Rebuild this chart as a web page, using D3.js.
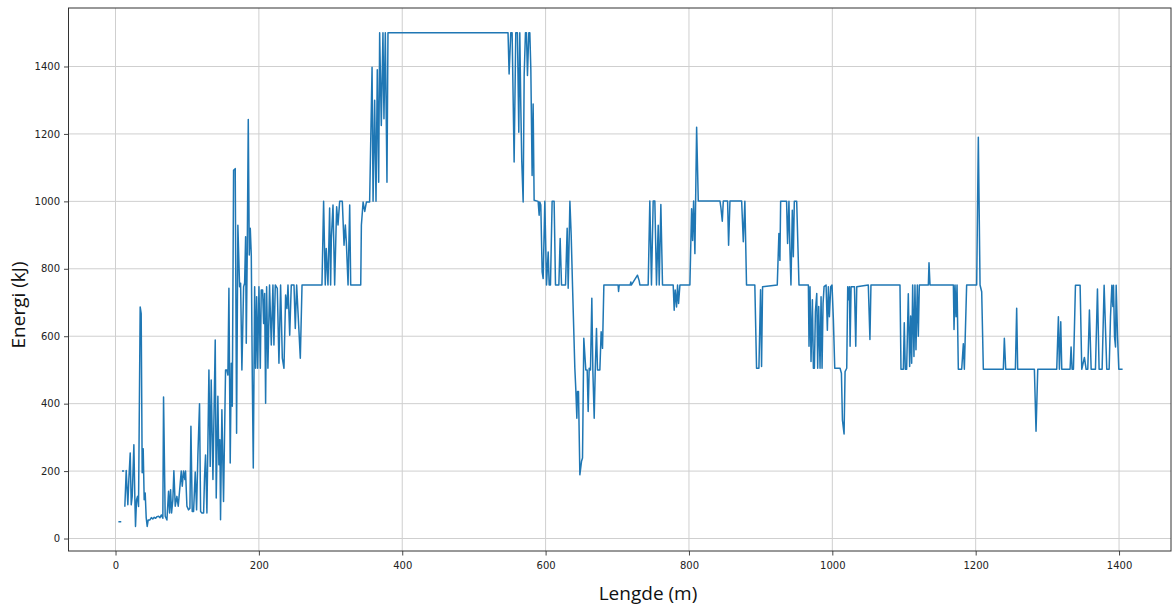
<!DOCTYPE html>
<html>
<head>
<meta charset="utf-8">
<script src="https://cdn.jsdelivr.net/npm/d3@7"></script>
<style>
  html, body { margin: 0; padding: 0; background: #fff; }
  svg { display: block; }
</style>
</head>
<body>
<svg id="chart" width="1172" height="607"></svg>
<script>
// ---- data ----
const xTicks = [0, 200, 400, 600, 800, 1000, 1200, 1400];
const yTicks = [0, 200, 400, 600, 800, 1000, 1200, 1400];
const xLabel = "Lengde (m)";
const yLabel = "Energi (kJ)";

const lengde = [4,8,8.5,9,12,12.5,
13,14.9,17.2,18.6,20.5,21.9,23.3,25.6,27,27.9,29.3,30.7,32.1,34.4,35.8,37.2,38.6,40,41.4,42.8,44.2,45.6,48,50,52,54,56,58,60,62,64,66,67,69.3,71.7,74,75.4,76.8,78.2,80,81.4,83.3,85.6,87.5,89.3,91.7,93.1,94.9,96.8,97.7,99.6,101.9,103.8,105.2,107,108.9,111.2,113.1,114.9,117.2,118.7,120.5,122.9,124.2,125.6,127.5,130.3,132.1,133.5,135.9,139.1,140.5,142.8,144.2,145.6,146.5,148.4,150.7,153.5,155.4,156.8,158.2,160,161.5,162.9,164.7,167,168.9,170.7,173.1,174.5,176.3,178.7,180.1,181.5,182.4,183.8,185.2,186.6,188,189.4,190.8,192.2,194.1,195.5,196.9,198.3,200.1,202,203.3,205.2,206.6,208,209.4,210.8,212.6,214.9,217.3,219.6,221,222.9,225.7,228,230.3,232.7,235,237.3,239.2,240.6,243,245.2,249,250.8,252.7,255.5,257.8,260.2,288,290.3,292.6,294,296.4,298.7,300.1,301.1,303.4,305.7,308.5,310.4,312.7,316.4,318.8,320.6,322,324.4,326.7,328.1,342.1,343,345.4,347.7,350,354.5,357.9,359.3,361.5,363.4,365.2,367.1,368.5,370.8,373.1,374.5,376.4,378.7,380.1,547.6,549.1,551.4,553.3,556.1,558.4,560.7,562.6,564,565.4,566.7,568.7,570.1,571.9,573.3,574.7,576.6,578,579.4,581.2,582.6,584,589.6,591,591.9,593.3,595.2,596.6,598.9,601.3,603.6,605,606.8,609.1,611.9,613.8,618.5,620.3,622.2,627.8,630.1,631.5,633.9,635.7,637.6,640.8,642.2,643.6,644.5,645.9,647.8,650.1,651.5,653.3,656.1,658,659.4,660.8,662.6,664.5,665.9,667.8,669.2,671,672.4,675.7,677.5,679.4,681.3,701.2,701.8,702.7,718,718.9,719.8,728.2,730.5,731.5,743.1,745.4,747.7,750.1,752.4,754.7,757.1,758.5,760.8,763.1,778,779.4,780.8,782.7,784.1,785.5,787.4,801.3,803.7,805.1,806.5,808.3,810.7,813,843.3,844.6,846.5,847.9,853.9,855.3,857.2,873.5,875.8,878,880.3,891.9,894.3,897.6,899.9,901.3,902.7,923.2,925.5,926.9,927.9,936.2,937.6,939.5,940.9,942.3,944.2,945.6,947,950.3,953.5,966.6,967.5,968.9,970.3,972.2,973.6,975,976.4,978.3,979.6,981,982.9,984.3,985.7,987.1,988.5,991.3,993.1,994.5,995.9,997.8,999.6,1001.5,1003.4,1010.8,1012.7,1014.1,1016.4,1017.8,1020.1,1021.5,1022.5,1023.9,1024.8,1026.2,1030.9,1032.7,1034.1,1050.2,1052.5,1053.9,1094.4,1095.8,1099.1,1100.4,1101.8,1103.7,1106,1107.9,1109.3,1110.7,1112.1,1113.9,1115.3,1116.7,1118.6,1120,1121.4,1134,1134.9,1136.3,1168.9,1169.8,1171.2,1172.6,1174,1175.8,1180.5,1182.8,1184.2,1187.4,1201.4,1203.7,1206.1,1208.4,1210.7,1238.6,1240,1241.9,1255.4,1257.2,1258.6,1281.9,1284.2,1286.6,1313.1,1315.4,1316.8,1318.7,1320.1,1331.7,1333.1,1334.5,1336.4,1339.2,1345.7,1348,1351.7,1354.1,1356.4,1358.7,1361.1,1367.1,1369.9,1372.2,1376.4,1379.2,1382.9,1386.2,1388.1,1390,1391.4,1392.3,1393.7,1395.1,1396,1397.9,1399.7,1405];

const energi = [50,50,null,200,200,null,
94,202,100,175,254,100,125,278,115,36,115,125,95,687,667,195,266,115,135,62,36,55,55,62,58,63,60,65,66,62,70,60,420,66,55,140,76,145,76,115,201,96,125,96,140,200,155,200,175,200,96,85,90,333,80,80,197,85,247,400,80,76,76,184,248,76,500,214,470,175,589,120,422,219,293,56,382,110,500,500,485,742,224,520,392,1092,1097,312,929,747,757,500,747,757,895,579,855,1243,841,920,841,480,209,747,505,717,505,747,505,737,737,638,727,401,747,505,752,574,752,574,752,742,520,752,535,505,722,682,752,603,752,752,623,752,633,535,752,752,1000,752,860,752,980,752,890,989,752,984,930,1000,1000,870,930,880,752,989,752,752,930,998,970,998,998,1398,1000,1300,1000,1390,1057,1500,1225,1500,1245,1500,1057,1500,1500,1378,1500,1500,1117,1500,1500,1205,1500,1283,1122,998,1373,1500,1500,1373,1500,1500,1392,1077,1289,1003,1000,959,998,989,791,771,1000,752,850,752,752,1000,1000,752,752,890,752,752,920,742,1000,900,747,505,440,357,436,436,189,229,239,594,500,500,377,505,500,713,500,357,495,623,500,500,613,564,752,752,733,752,752,761,752,781,765,752,752,1001,752,1001,1001,752,929,752,991,752,752,677,737,687,752,697,752,752,978,884,1001,845,1220,1001,1001,981,941,1001,1001,870,1001,1001,880,1000,752,752,505,505,738,510,747,752,905,825,1000,1000,875,1000,855,752,974,836,1000,1000,752,752,570,747,525,708,505,505,673,727,505,688,505,717,505,697,747,752,618,747,658,747,752,648,505,505,490,352,310,495,505,747,708,747,570,747,747,570,747,752,590,752,752,502,502,640,502,502,726,510,660,520,752,540,752,560,752,600,752,752,818,752,752,620,752,658,752,502,502,578,502,752,752,1190,752,732,502,502,594,502,502,683,502,502,318,502,502,658,502,643,502,502,568,502,502,751,751,502,537,502,502,678,502,502,740,502,502,751,502,502,658,751,688,751,599,568,751,600,502,502];

// ---- layout ----
const svg = d3.select("#chart");
const plot = { left: 68.5, right: 1171, top: 8, bottom: 551 };

const x = d3.scaleLinear().domain([-65.6, 1472.5]).range([plot.left, plot.right]);
const y = d3.scaleLinear().domain([-37, 1573.5]).range([plot.bottom, plot.top]);

const gridColor = "#cfcfcf";
const tickFont = "'DejaVu Sans', sans-serif";

// grid
const grid = svg.append("g");
grid.selectAll("line.vx").data(xTicks).enter().append("line")
  .attr("x1", d => x(d)).attr("x2", d => x(d))
  .attr("y1", plot.top).attr("y2", plot.bottom)
  .attr("stroke", gridColor).attr("stroke-width", 1);
grid.selectAll("line.hy").data(yTicks).enter().append("line")
  .attr("y1", d => y(d)).attr("y2", d => y(d))
  .attr("x1", plot.left).attr("x2", plot.right)
  .attr("stroke", gridColor).attr("stroke-width", 1);

// line
const pts = lengde.map((m, i) => ({ m: m, e: energi[i] }));
const line = d3.line()
  .defined(d => d.e !== null)
  .x(d => x(d.m))
  .y(d => y(d.e));
svg.append("path")
  .datum(pts)
  .attr("fill", "none")
  .attr("stroke", "#1f77b4")
  .attr("stroke-width", 1.5)
  .attr("stroke-linejoin", "round")
  .attr("d", line);

// axes
const xAxis = d3.axisBottom(x).tickValues(xTicks).tickSize(4.5).tickPadding(6).tickFormat(d3.format("d"));
const yAxis = d3.axisLeft(y).tickValues(yTicks).tickSize(4.5).tickPadding(4).tickFormat(d3.format("d"));

const gx = svg.append("g").attr("transform", `translate(0,${plot.bottom})`).call(xAxis);
const gy = svg.append("g").attr("transform", `translate(${plot.left},0)`).call(yAxis);
[gx, gy].forEach(g => {
  g.select(".domain").remove();
  g.selectAll(".tick line").attr("stroke", "#333").attr("stroke-width", 0.9);
  g.selectAll(".tick text").attr("fill", "#222").style("font-family", tickFont).style("font-size", "10px");
});

// frame
svg.append("rect")
  .attr("x", plot.left).attr("y", plot.top)
  .attr("width", plot.right - plot.left).attr("height", plot.bottom - plot.top)
  .attr("fill", "none").attr("stroke", "#333").attr("stroke-width", 1);

// axis labels
svg.append("text")
  .attr("x", 648).attr("y", 600)
  .attr("text-anchor", "middle")
  .style("font-family", "'Open Sans', sans-serif")
  .style("font-size", "19px")
  .attr("fill", "#111")
  .text(xLabel);

svg.append("text")
  .attr("transform", "translate(25,305) rotate(-90)")
  .attr("text-anchor", "middle")
  .style("font-family", "'Open Sans', sans-serif")
  .style("font-size", "19px")
  .attr("fill", "#111")
  .text(yLabel);
</script>
</body>
</html>
